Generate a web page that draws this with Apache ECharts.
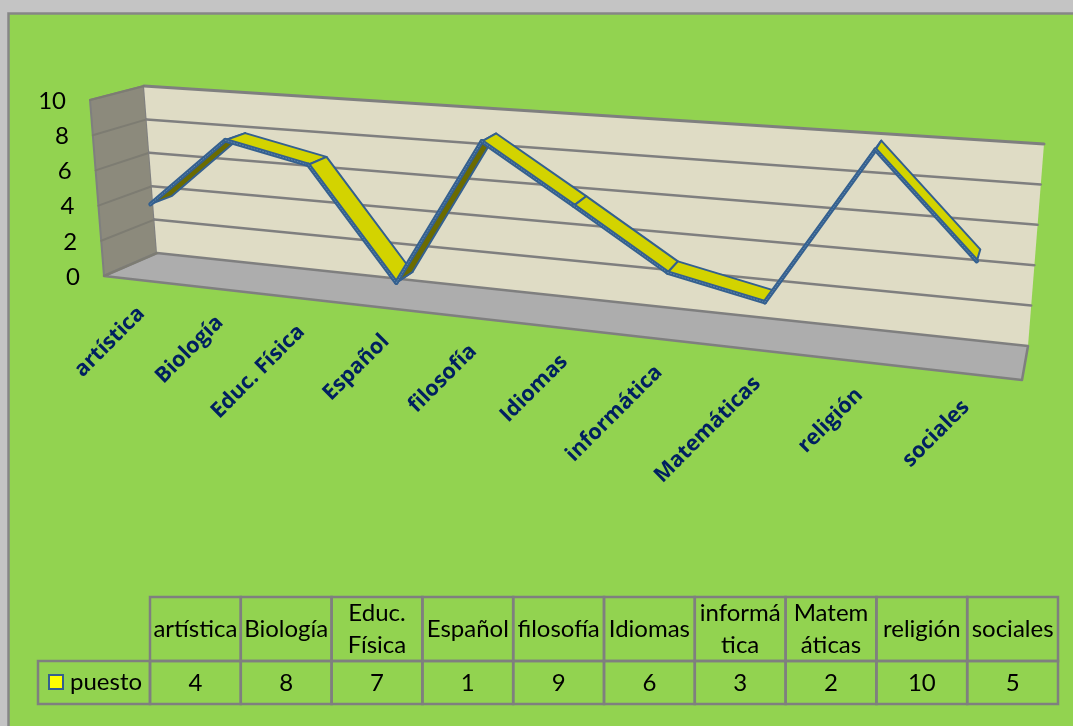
<!DOCTYPE html>
<html><head><meta charset="utf-8">
<style>html,body{margin:0;padding:0;background:#c4c4c4}#c{width:1073px;height:726px}</style>
<script src="https://cdn.jsdelivr.net/npm/echarts@6/dist/echarts.min.js"></script>
</head><body><div id="c"></div>
<script>
var categories = ['artística','Biología','Educ. Física','Español','filosofía','Idiomas','informática','Matemáticas','religión','sociales'];
var tableHeaders = ['artística','Biología','Educ.\nFísica','Español','filosofía','Idiomas','informá\ntica','Matem\náticas','religión','sociales'];
var puesto = [4,8,7,1,9,6,3,2,10,5];
var yTicks = [0,2,4,6,8,10];

var BG='#92d350', GREY='#7f7f7f', BLUE='#34608f';
// 3D box corners as seen in the picture (front/back, left/right, bottom/top)
var box = {
  fbl:[104,276], fbr:[1022,380], ftl:[90,100], ftr:[1039,167],
  bbl:[157,253], bbr:[1028,346], btl:[144,86], btr:[1044,144]
};
var PERSP = 1.21, D0 = 0.26, D1 = 0.68;
function mix(a,b,t){return [a[0]+(b[0]-a[0])*t,a[1]+(b[1]-a[1])*t];}
function project(u,v,d){
  var s=u/(u+PERSP*(1-u));
  var front=mix(mix(box.fbl,box.fbr,s),mix(box.ftl,box.ftr,s),v);
  var back=mix(mix(box.bbl,box.bbr,s),mix(box.btl,box.btr,s),v);
  return mix(front,back,d);
}
function unit(params,api,i,val){
  var p=api.coord([i,val]), c=params.coordSys;
  return [(p[0]-c.x)/c.width, 1-(p[1]-c.y)/c.height];
}
function yUnit(params,api,val){return unit(params,api,0,val)[1];}
function poly(points,fill,stroke,lw){
  return {type:'polygon',shape:{points:points},style:{fill:fill,stroke:stroke,lineWidth:lw,lineJoin:'round'}};
}
function line(a,b,stroke,lw,dash){
  return {type:'line',shape:{x1:a[0],y1:a[1],x2:b[0],y2:b[1]},style:{stroke:stroke,lineWidth:lw,lineDash:dash||null,lineCap:'round'}};
}
function text(t,x,y,o){
  return {type:'text',x:x,y:y,rotation:o.rotation||0,style:{text:t,x:0,y:0,fill:o.fill||'#000',font:o.font,align:o.align||'center',verticalAlign:'middle',lineHeight:o.lineHeight}};
}

// Table geometry
var T={x0:38,x1:150,cw:90.8,top:597,mid:661,bottom:704};

var option={
  animation:false,
  backgroundColor:'#c4c4c4',
  graphic:[{type:'rect',z:-10,shape:{x:8.5,y:13.5,width:1100,height:800},style:{fill:BG,stroke:'#868686',lineWidth:2.5}}],
  grid:{left:0,top:0,width:1000,height:700,show:false},
  xAxis:{type:'category',data:categories,show:false},
  yAxis:{type:'value',min:0,max:10,interval:2,show:false},
  legend:{show:true,left:48,top:670,itemWidth:14,itemHeight:14,itemGap:0,padding:0,selectedMode:false,
    data:[{name:'puesto',icon:'rect',itemStyle:{color:'#ffff00',borderColor:BLUE,borderWidth:2}}],
    textStyle:{fontFamily:'Lato',fontSize:24,color:'#000',padding:[0,0,0,2]}},
  series:[
    {name:'walls',type:'custom',coordinateSystem:'cartesian2d',silent:true,z:1,data:[0],
     renderItem:function(){
       return {type:'group',children:[
         poly([box.ftl,box.btl,box.bbl,box.fbl],'#8c8a7c',GREY,2),
         poly([box.btl,box.btr,box.bbr,box.bbl],'#dfdcc5',null,0),
         poly([box.fbl,box.bbl,box.bbr,box.fbr],'#adadad',GREY,2.5),
         line(box.btl,box.btr,GREY,3)
       ]};
     }},
    {name:'gridlines',type:'custom',coordinateSystem:'cartesian2d',silent:true,z:2,data:yTicks.map(function(v){return [0,v];}),
     renderItem:function(params,api){
       var val=api.value(1), v=yUnit(params,api,val);
       var a=project(0,v,0), b=project(0,v,1), c=project(1,v,1);
       var kids=[line(a,b,'#7d7c72',2)];
       if(val>0&&val<10) kids.push(line(b,c,GREY,2.5));
       kids.push(text(String(val),a[0]-24,a[1]+1,{font:'24px Lato',align:'right'}));
       return {type:'group',children:kids};
     }},
    {name:'puesto',type:'custom',coordinateSystem:'cartesian2d',silent:true,z:3,
     data:puesto.map(function(v,i){return [i,v];}),
     renderItem:function(params,api){
       var i=api.value(0), kids=[];
       if(i<puesto.length-1){
         var p=unit(params,api,i,api.value(1)), q=unit(params,api,i+1,puesto[i+1]);
         var f0=project(p[0],p[1],D0), b0=project(p[0],p[1],D1), f1=project(q[0],q[1],D0), b1=project(q[0],q[1],D1);
         var cross=(f1[0]-f0[0])*(b0[1]-f0[1])-(f1[1]-f0[1])*(b0[0]-f0[0]);
         kids.push(poly([f0,f1,b1,b0],cross<0?'#d3d300':'#6b6b00',BLUE,2));
         kids.push(line(f0,f1,BLUE,4.5));
         kids.push(line(f0,f1,'#5f86ad',1,[1,2]));
       }
       return {type:'group',children:kids};
     }},
    {name:'categoryLabels',type:'custom',coordinateSystem:'cartesian2d',silent:true,z:4,
     data:categories.map(function(c,i){return [i,0];}),
     renderItem:function(params,api){
       var i=api.value(0), p=unit(params,api,i,0), a=project(p[0],0,0);
       return text(categories[i],a[0]-1,a[1]+30,{font:'bold 21.5px "Open Sans"',fill:'#002060',align:'right',rotation:Math.PI/4});
     }},
    {name:'table',type:'custom',coordinateSystem:'cartesian2d',silent:true,z:4,
     data:puesto.map(function(v,i){return [i,v];}),
     renderItem:function(params,api){
       var i=api.value(0), val=api.value(1), x=T.x1+i*T.cw, st={fill:null,stroke:'#7f7f7f',lineWidth:2.5};
       var kids=[
         {type:'rect',shape:{x:x,y:T.top,width:T.cw,height:T.mid-T.top},style:st},
         {type:'rect',shape:{x:x,y:T.mid,width:T.cw,height:T.bottom-T.mid},style:st},
         text(tableHeaders[i],x+T.cw/2,(T.top+T.mid)/2,{font:'24px Lato',lineHeight:32}),
         text(String(val),x+T.cw/2,(T.mid+T.bottom)/2+1,{font:'24px Lato'})
       ];
       if(i===0) kids.push({type:'rect',shape:{x:T.x0,y:T.mid,width:T.x1-T.x0,height:T.bottom-T.mid},style:st});
       return {type:'group',children:kids};
     }}
  ]
};
var chart=echarts.init(document.getElementById('c'),null,{renderer:'canvas'});
chart.setOption(option);
</script></body></html>
